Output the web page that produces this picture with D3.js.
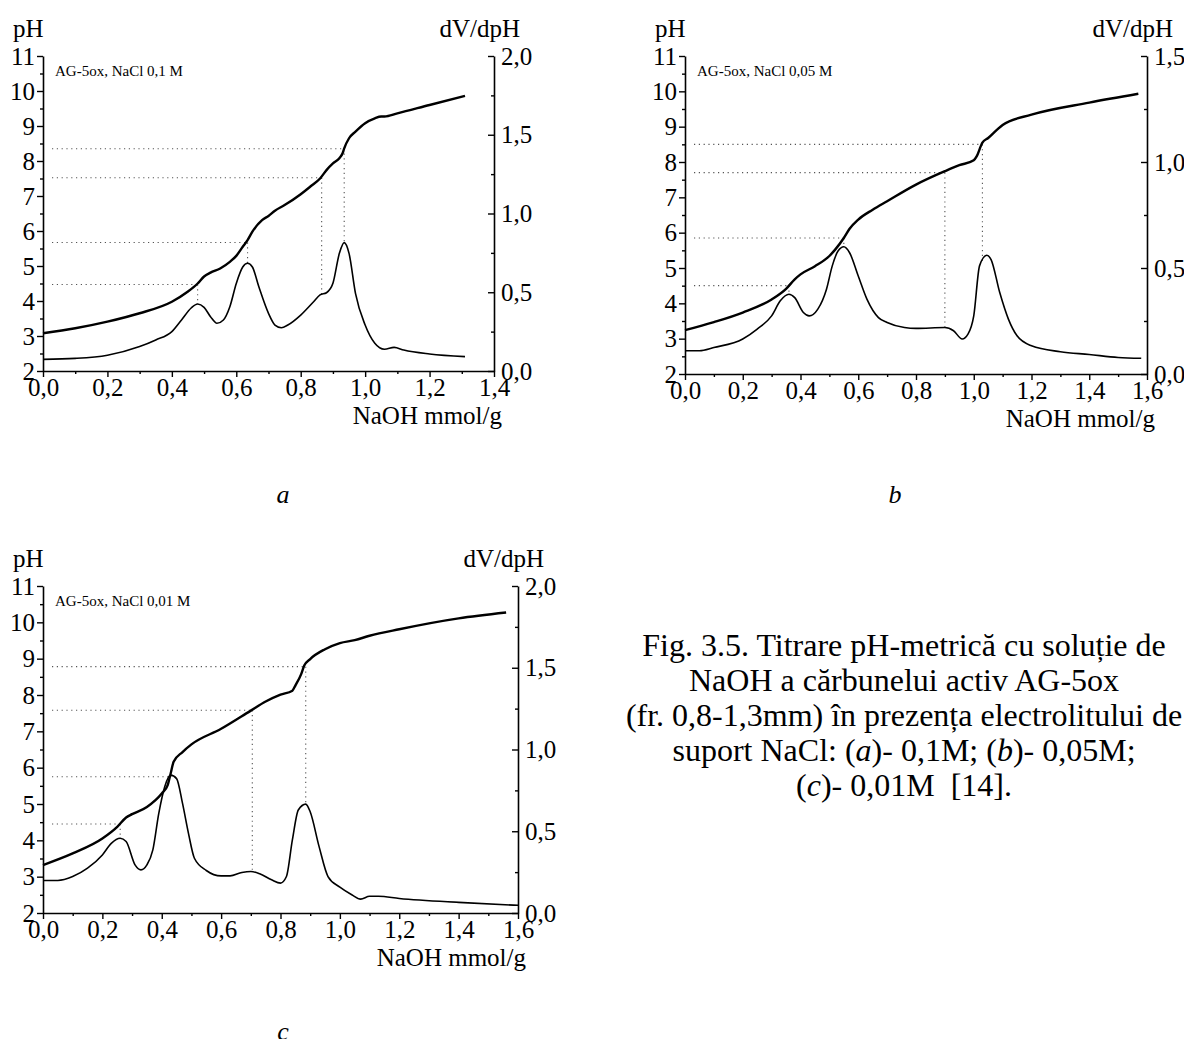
<!DOCTYPE html>
<html><head><meta charset="utf-8">
<script src="https://cdn.jsdelivr.net/npm/d3@7/dist/d3.min.js"></script>
<style>
html,body{margin:0;padding:0;background:#fff;}
svg{display:block;}
text{font-family:"Liberation Serif","Times New Roman",serif;fill:#000;}
</style></head>
<body>
<svg id="fig" width="1184" height="1039"></svg>
<script>
// ---------- DATA ----------
const xTickValuesA = [0,0.2,0.4,0.6,0.8,1.0,1.2,1.4];
const xTickValuesBC = [0,0.2,0.4,0.6,0.8,1.0,1.2,1.4,1.6];
const phTickValues = [2,3,4,5,6,7,8,9,10,11];
const dvTickValuesA = [0,0.5,1.0,1.5,2.0];
const dvTickValuesB = [0,0.5,1.0,1.5];
const dvTickValuesC = [0,0.5,1.0,1.5,2.0];

// Panel a: NaCl 0,1 M
const aPhX = [0,0.1,0.2,0.3,0.4,0.45,0.48,0.5,0.52,0.55,0.58,0.6,0.62,0.635,0.65,0.68,0.7,0.72,0.75,0.8,0.83,0.86,0.88,0.9,0.92,0.93,0.935,0.95,0.97,1.0,1.03,1.05,1.06,1.1,1.2,1.31];
const aPh  = [3.08,3.22,3.41,3.65,3.98,4.27,4.50,4.70,4.81,4.93,5.12,5.29,5.55,5.74,5.98,6.31,6.43,6.58,6.74,7.05,7.27,7.50,7.74,7.93,8.08,8.22,8.36,8.65,8.84,9.08,9.22,9.27,9.27,9.36,9.60,9.86];
const aDvX = [0,0.1,0.2,0.3,0.35,0.4,0.43,0.46,0.48,0.5,0.52,0.54,0.56,0.58,0.6,0.62,0.635,0.65,0.67,0.7,0.72,0.74,0.76,0.8,0.84,0.86,0.88,0.9,0.92,0.935,0.95,0.97,1.0,1.03,1.06,1.09,1.12,1.2,1.31];
const aDv  = [0.074,0.08,0.10,0.155,0.197,0.25,0.324,0.40,0.425,0.404,0.345,0.303,0.324,0.408,0.556,0.66,0.684,0.66,0.535,0.366,0.292,0.275,0.292,0.355,0.44,0.483,0.497,0.557,0.747,0.815,0.747,0.493,0.292,0.176,0.138,0.150,0.133,0.108,0.091];
const aMarkX  = [0.48,0.635,0.865,0.935];
const aMarkPh = [4.47,5.67,7.52,8.35];

// Panel b: NaCl 0,05 M
const bPhX = [0,0.1,0.2,0.3,0.35,0.38,0.4,0.45,0.5,0.52,0.55,0.57,0.6,0.65,0.7,0.8,0.9,0.95,1.0,1.01,1.03,1.05,1.08,1.1,1.2,1.4,1.57];
const bPh  = [3.24,3.47,3.74,4.11,4.41,4.68,4.82,5.05,5.34,5.52,5.85,6.11,6.37,6.65,6.89,7.36,7.74,7.91,8.05,8.16,8.55,8.68,8.91,9.05,9.34,9.68,9.93];
const bDvX = [0,0.05,0.1,0.2,0.25,0.3,0.33,0.36,0.38,0.41,0.43,0.46,0.49,0.51,0.53,0.55,0.57,0.6,0.63,0.67,0.7,0.76,0.8,0.9,0.93,0.96,0.98,1.0,1.02,1.045,1.06,1.09,1.12,1.15,1.2,1.3,1.4,1.5,1.58];
const bDv  = [0.110,0.110,0.125,0.165,0.212,0.274,0.345,0.376,0.36,0.29,0.274,0.306,0.40,0.51,0.58,0.60,0.572,0.462,0.353,0.266,0.243,0.219,0.215,0.219,0.204,0.165,0.188,0.274,0.51,0.56,0.54,0.384,0.259,0.18,0.133,0.105,0.092,0.078,0.074];
const bMarkX  = [0.36,0.55,0.90,1.03];
const bMarkPh = [4.50,5.85,7.70,8.50];

// Panel c: NaCl 0,01 M
const cPhX = [0,0.1,0.2,0.25,0.28,0.3,0.35,0.4,0.42,0.43,0.44,0.47,0.5,0.6,0.7,0.75,0.8,0.84,0.85,0.87,0.88,0.9,0.95,1.0,1.05,1.1,1.2,1.4,1.56];
const cPh  = [3.32,3.64,4.05,4.37,4.63,4.72,4.92,5.29,5.52,5.84,6.16,6.43,6.64,7.07,7.57,7.82,8.01,8.12,8.26,8.58,8.81,8.99,9.26,9.43,9.51,9.63,9.81,10.11,10.27];
const cDvX = [0,0.05,0.1,0.15,0.2,0.23,0.26,0.28,0.31,0.33,0.35,0.37,0.39,0.41,0.43,0.45,0.47,0.49,0.51,0.55,0.6,0.63,0.67,0.7,0.73,0.77,0.8,0.82,0.84,0.86,0.885,0.9,0.93,0.96,1.0,1.04,1.07,1.1,1.13,1.2,1.4,1.6];
const cDv  = [0.199,0.199,0.223,0.274,0.355,0.426,0.457,0.437,0.294,0.264,0.294,0.386,0.609,0.772,0.843,0.822,0.67,0.487,0.335,0.26,0.227,0.227,0.248,0.254,0.240,0.203,0.183,0.223,0.447,0.63,0.666,0.619,0.406,0.223,0.158,0.112,0.085,0.102,0.102,0.089,0.065,0.047];
const cMarkX  = [0.26,0.43,0.705,0.885];
const cMarkPh = [4.45,5.75,7.58,8.78];

const panelLabels = ["AG-5ox, NaCl 0,1 M","AG-5ox, NaCl 0,05 M","AG-5ox, NaCl 0,01 M"];
const panelLetters = ["a","b","c"];
const captionLines = [
  "Fig. 3.5. Titrare pH-metrică cu soluție de",
  "NaOH a cărbunelui activ AG-5ox",
  "(fr. 0,8-1,3mm) în prezența electrolitului de",
  "suport NaCl: (<i>a</i>)- 0,1M; (<i>b</i>)- 0,05M;",
  "(<i>c</i>)- 0,01M\u00a0 [14]."
];

// ---------- DRAW ----------
const svg = d3.select("#fig");
const FS = 25;
const comma = d => d.toFixed(1).replace(".", ",");

function interp(xs, ys, x){
  const i = d3.bisectLeft(xs, x);
  if (i <= 0) return ys[0];
  if (i >= xs.length) return ys[ys.length-1];
  const t = (x - xs[i-1])/(xs[i]-xs[i-1]);
  return ys[i-1] + t*(ys[i]-ys[i-1]);
}

function drawPanel(cfg){
  const g = svg.append("g");
  const x = d3.scaleLinear().domain([0, cfg.xMax]).range([cfg.left, cfg.right]);
  const y = d3.scaleLinear().domain([2, 11]).range([cfg.bottom, cfg.top]);
  const y2 = d3.scaleLinear().domain([0, cfg.dvMax]).range([cfg.bottom, cfg.top]);

  const xMinor = d3.range(0.1, cfg.xMax, 0.2).map(v => +v.toFixed(2));
  const yMinor = d3.range(2.5, 11, 1);
  const y2Minor = d3.range(0.25, cfg.dvMax, 0.5);

  const styleAxis = sel => {
    sel.selectAll("path.domain").attr("stroke","#000").attr("stroke-width",1.6);
    sel.selectAll(".tick line").attr("stroke","#000").attr("stroke-width",1.4);
    sel.selectAll(".tick text").style("font-family",'"Liberation Serif","Times New Roman",serif').style("font-size",FS+"px").attr("fill","#000");
  };

  g.append("g").attr("transform",`translate(0,${cfg.bottom})`)
    .call(d3.axisBottom(x).tickValues(xMinor).tickSize(3).tickSizeOuter(0).tickFormat(""))
    .call(s=>s.select(".domain").remove()).call(styleAxis);
  g.append("g").attr("transform",`translate(${cfg.left},0)`)
    .call(d3.axisLeft(y).tickValues(yMinor).tickSize(3).tickSizeOuter(0).tickFormat(""))
    .call(s=>s.select(".domain").remove()).call(styleAxis);
  g.append("g").attr("transform",`translate(${cfg.right},0)`)
    .call(d3.axisRight(y2).tickValues(y2Minor).tickSize(-3).tickSizeOuter(0).tickFormat(""))
    .call(s=>s.select(".domain").remove()).call(styleAxis);

  g.append("g").attr("transform",`translate(0,${cfg.bottom})`)
    .call(d3.axisBottom(x).tickValues(cfg.xTicks).tickSize(6).tickSizeOuter(0).tickPadding(1).tickFormat(comma))
    .call(styleAxis);
  g.append("g").attr("transform",`translate(${cfg.left},0)`)
    .call(d3.axisLeft(y).tickValues(phTickValues).tickSize(6).tickSizeOuter(0).tickPadding(2).tickFormat(d3.format("d")))
    .call(styleAxis);
  g.append("g").attr("transform",`translate(${cfg.right},0)`)
    .call(d3.axisRight(y2).tickValues(cfg.dvTicks).tickSize(-6).tickSizeOuter(0).tickPadding(7).tickFormat(comma))
    .call(styleAxis);

  // dotted guide lines
  const dots = g.append("g").attr("stroke","#555").attr("stroke-width",1.1).attr("stroke-dasharray","1.2,3.6").attr("fill","none");
  cfg.markX.forEach((mx,i)=>{
    const ph = cfg.markPh[i];
    dots.append("line").attr("x1",cfg.left+9).attr("x2",x(mx)).attr("y1",y(ph)).attr("y2",y(ph));
    const dv = interp(cfg.dvX, cfg.dv, mx);
    dots.append("line").attr("x1",x(mx)).attr("x2",x(mx)).attr("y1",y(ph)).attr("y2",y2(dv));
  });

  // curves
  const line1 = d3.line().x((d,i)=>x(cfg.phX[i])).y(d=>y(d)).curve(d3.curveMonotoneX);
  g.append("path").attr("d", line1(cfg.ph)).attr("fill","none").attr("stroke","#000").attr("stroke-width",2.4).attr("stroke-linejoin","round");
  const line2 = d3.line().x((d,i)=>x(cfg.dvX[i])).y(d=>y2(d)).curve(d3.curveMonotoneX);
  g.append("path").attr("d", line2(cfg.dv)).attr("fill","none").attr("stroke","#000").attr("stroke-width",1.6).attr("stroke-linejoin","round");

  // titles
  g.append("text").attr("x",cfg.left-30).attr("y",cfg.top-19).style("font-size",FS+"px").text("pH");
  g.append("text").attr("x",cfg.right+26).attr("y",cfg.top-19).attr("text-anchor","end").style("font-size",FS+"px").text("dV/dpH");
  g.append("text").attr("x",cfg.right+8).attr("y",cfg.bottom+53).attr("text-anchor","end").style("font-size",FS+"px").text("NaOH mmol/g");
  g.append("text").attr("x",cfg.left+12).attr("y",cfg.top+20).style("font-size","15px").text(cfg.label);
  g.append("text").attr("x",cfg.letterX).attr("y",cfg.letterY).attr("text-anchor","middle")
    .style("font-size","26px").style("font-style","italic").text(cfg.letter);
}

drawPanel({left:43,right:494,top:56,bottom:371,xMax:1.4,dvMax:2.0,xTicks:xTickValuesA,dvTicks:dvTickValuesA,
  phX:aPhX,ph:aPh,dvX:aDvX,dv:aDv,markX:aMarkX,markPh:aMarkPh,label:panelLabels[0],letter:panelLetters[0],letterX:283,letterY:503});
drawPanel({left:685,right:1147,top:56,bottom:374,xMax:1.6,dvMax:1.5,xTicks:xTickValuesBC,dvTicks:dvTickValuesB,
  phX:bPhX,ph:bPh,dvX:bDvX,dv:bDv,markX:bMarkX,markPh:bMarkPh,label:panelLabels[1],letter:panelLetters[1],letterX:895,letterY:503});
drawPanel({left:43,right:518,top:586,bottom:913,xMax:1.6,dvMax:2.0,xTicks:xTickValuesBC,dvTicks:dvTickValuesC,
  phX:cPhX,ph:cPh,dvX:cDvX,dv:cDv,markX:cMarkX,markPh:cMarkPh,label:panelLabels[2],letter:panelLetters[2],letterX:283,letterY:1040});

// caption
const cap = svg.append("text").attr("text-anchor","middle").style("font-size","32px");
captionLines.forEach((ln,i)=>{
  const t = cap.append("tspan").attr("x",904).attr("y",656+i*35);
  const parts = ln.split(/(<i>.*?<\/i>)/);
  parts.forEach(p=>{
    if(!p) return;
    const m = p.match(/^<i>(.*)<\/i>$/);
    if(m) t.append("tspan").style("font-style","italic").text(m[1]);
    else t.append("tspan").text(p);
  });
});
</script>
</body></html>
